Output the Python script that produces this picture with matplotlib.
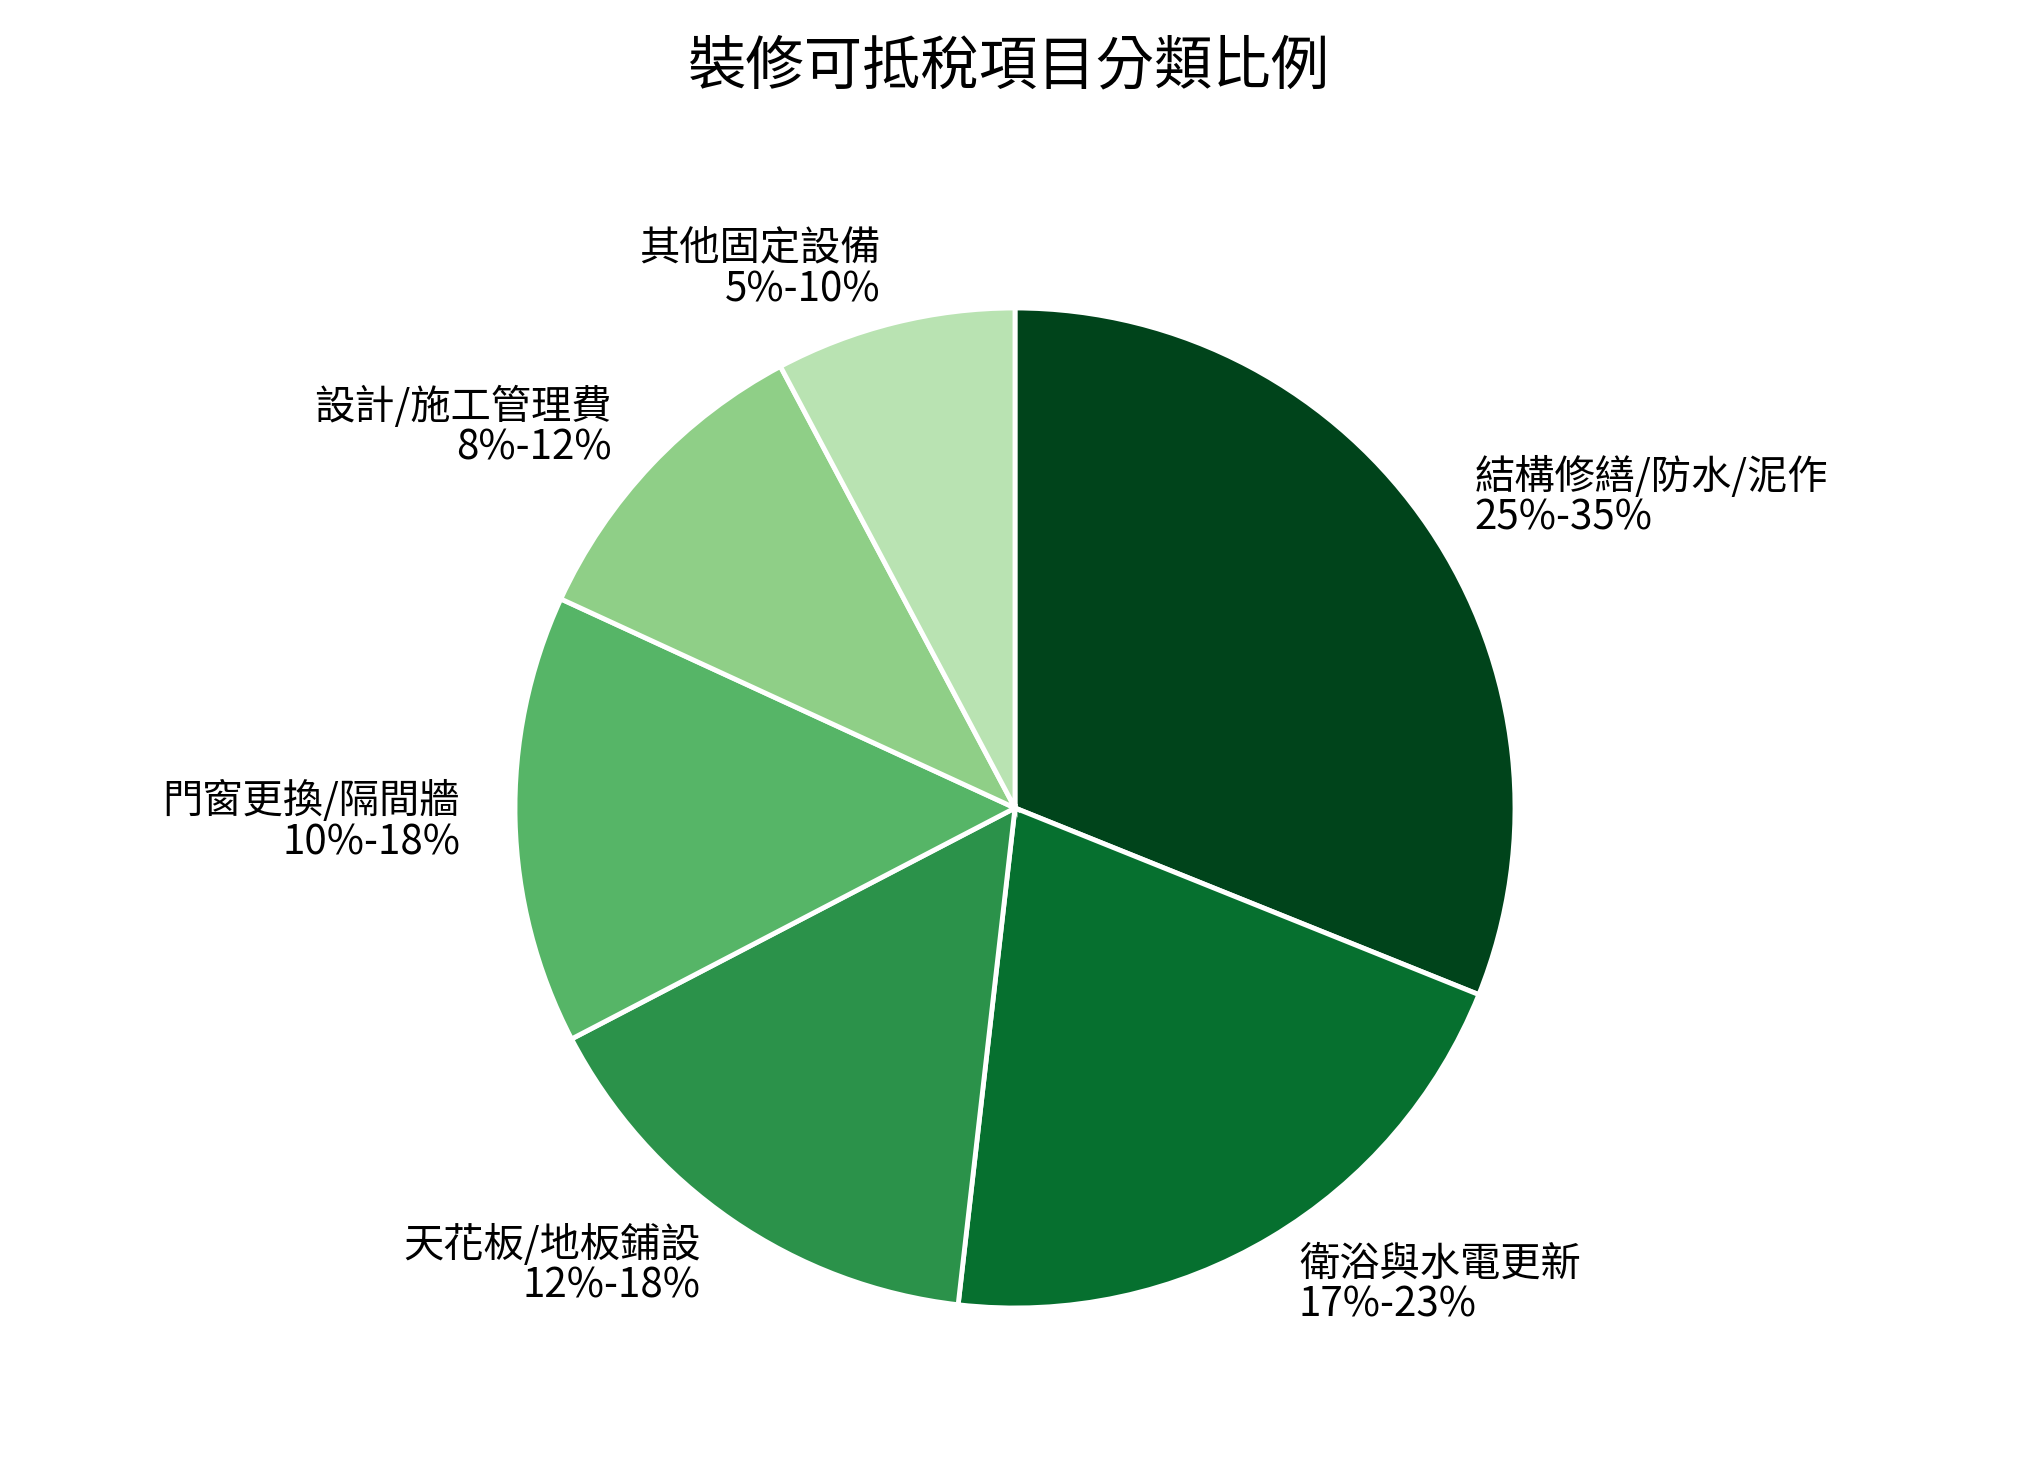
import matplotlib
matplotlib.use("Agg")
import matplotlib.pyplot as plt

categories = ["結構修繕/防水/泥作", "衛浴與水電更新", "天花板/地板鋪設", "門窗更換/隔間牆", "設計/施工管理費", "其他固定設備"]
ranges = ["25%-35%", "17%-23%", "12%-18%", "10%-18%", "8%-12%", "5%-10%"]
values = [30, 20, 15, 14, 10, 7.5]
colors = ["#00441b", "#06702f", "#2b924a", "#56b567", "#8fcf87", "#b9e3b2"]

plt.rcParams["font.family"] = "Noto Sans CJK TC"
fig = plt.figure(figsize=(20.17, 14.68), dpi=100)
cx, cy, r = 1015, 808, 500
ax = fig.add_axes([(cx - r) / 2017, (1468 - cy - r) / 1468, 2 * r / 2017, 2 * r / 1468])
labels = [f"{c}\n{rg}" for c, rg in zip(categories, ranges)]
wedges, texts = ax.pie(values, labels=labels, colors=colors, startangle=90, counterclock=False,
                       labeldistance=1.11, wedgeprops=dict(edgecolor="white", linewidth=3.5),
                       textprops=dict(fontsize=29, linespacing=1.0))
ax.set_xlim(-1, 1); ax.set_ylim(-1, 1)
ax.set_aspect("equal")
for t in texts:
    t.set_clip_on(False)
fig.suptitle("裝修可抵稅項目分類比例", fontsize=42, y=0.975)
fig.savefig("out.png", dpi=100)
